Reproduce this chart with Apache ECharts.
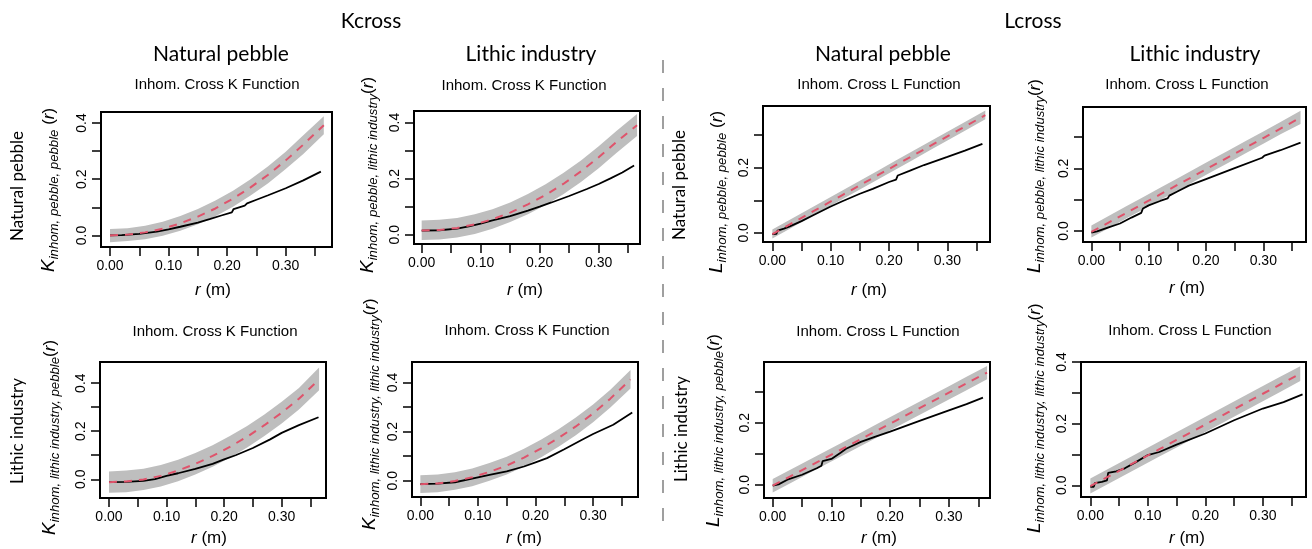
<!DOCTYPE html>
<html>
<head>
<meta charset="utf-8">
<script src="https://cdn.jsdelivr.net/npm/echarts@6/dist/echarts.min.js"></script>
<style>
  html, body { margin: 0; padding: 0; background: #fff; }
  #chart { width: 1312px; height: 549px; }
</style>
</head>
<body>
<div id="chart"></div>
<script>
// ---- distance grid (m) shared by the theoretical curves and envelopes ----
const rGrid = [0, 0.03, 0.06, 0.09, 0.12, 0.15, 0.18, 0.21, 0.24, 0.27, 0.30, 0.33, 0.365];

// ---- tick positions ----
const xTicks = [0, 0.05, 0.10, 0.15, 0.20, 0.25, 0.30, 0.35];
const xTickLabels = [0, 0.10, 0.20, 0.30];
const kTicks = [0, 0.1, 0.2, 0.3, 0.4];
const lTicks = [0, 0.1, 0.2, 0.3];
const lTicksTall = [0, 0.1, 0.2, 0.3, 0.4];
const yTickLabels = [0, 0.2, 0.4];

// ---- Kcross: natural pebble vs natural pebble ----
const kPebPebTheo = [0, 0.003, 0.011, 0.024, 0.043, 0.067, 0.096, 0.131, 0.171, 0.216, 0.267, 0.323, 0.392];
const kPebPebHi   = [0.023, 0.026, 0.035, 0.049, 0.069, 0.094, 0.124, 0.159, 0.200, 0.246, 0.298, 0.356, 0.424];
const kPebPebLo   = [-0.024, -0.020, -0.013, -0.001, 0.017, 0.040, 0.068, 0.102, 0.142, 0.186, 0.236, 0.290, 0.360];
const kPebPebObs  = [[0,0],[0.02,0.001],[0.05,0.006],[0.08,0.014],[0.10,0.022],[0.12,0.031],[0.15,0.046],[0.17,0.058],[0.19,0.071],[0.208,0.082],[0.211,0.094],[0.23,0.106],[0.234,0.114],[0.25,0.127],[0.27,0.143],[0.30,0.168],[0.33,0.196],[0.36,0.227]];

// ---- Kcross: natural pebble vs lithic industry ----
const kPebLitTheo = [0.015, 0.017, 0.024, 0.037, 0.055, 0.079, 0.108, 0.142, 0.181, 0.226, 0.276, 0.331, 0.390];
const kPebLitHi   = [0.051, 0.053, 0.060, 0.073, 0.091, 0.115, 0.145, 0.180, 0.220, 0.265, 0.315, 0.370, 0.430];
const kPebLitLo   = [-0.019, -0.017, -0.010, 0.003, 0.021, 0.045, 0.073, 0.106, 0.144, 0.188, 0.237, 0.291, 0.352];
const kPebLitObs  = [[0,0.015],[0.03,0.016],[0.06,0.022],[0.08,0.030],[0.10,0.040],[0.12,0.051],[0.15,0.066],[0.18,0.086],[0.20,0.100],[0.22,0.115],[0.25,0.138],[0.28,0.163],[0.30,0.181],[0.32,0.201],[0.34,0.222],[0.36,0.247]];

// ---- Kcross: lithic industry vs natural pebble ----
const kLitPebTheo = [-0.012, -0.009, -0.001, 0.014, 0.036, 0.064, 0.097, 0.135, 0.177, 0.225, 0.277, 0.335, 0.415];
const kLitPebHi   = [0.032, 0.036, 0.044, 0.059, 0.081, 0.109, 0.142, 0.180, 0.222, 0.270, 0.323, 0.380, 0.465];
const kLitPebLo   = [-0.056, -0.054, -0.045, -0.030, -0.008, 0.020, 0.052, 0.090, 0.132, 0.180, 0.232, 0.290, 0.370];
const kLitPebObs  = [[0,-0.012],[0.03,-0.011],[0.06,-0.007],[0.08,0.001],[0.10,0.014],[0.12,0.025],[0.15,0.043],[0.18,0.064],[0.20,0.083],[0.22,0.100],[0.25,0.130],[0.28,0.166],[0.30,0.193],[0.33,0.225],[0.364,0.258]];

// ---- Kcross: lithic industry vs lithic industry ----
const kLitLitTheo = [-0.014, -0.011, -0.001, 0.014, 0.036, 0.062, 0.094, 0.132, 0.174, 0.221, 0.274, 0.334, 0.412];
const kLitLitHi   = [0.022, 0.025, 0.035, 0.050, 0.072, 0.098, 0.130, 0.168, 0.210, 0.257, 0.310, 0.370, 0.450];
const kLitLitLo   = [-0.050, -0.047, -0.037, -0.022, 0, 0.026, 0.058, 0.096, 0.138, 0.185, 0.238, 0.298, 0.375];
const kLitLitObs  = [[0,-0.014],[0.03,-0.012],[0.06,-0.006],[0.10,0.014],[0.12,0.024],[0.15,0.038],[0.18,0.058],[0.20,0.075],[0.22,0.092],[0.25,0.128],[0.28,0.166],[0.30,0.190],[0.335,0.228],[0.368,0.278]];

// ---- Lcross: natural pebble vs natural pebble ----
const lPebPebTheo = [-0.004, 0.026, 0.056, 0.086, 0.116, 0.146, 0.176, 0.206, 0.236, 0.266, 0.296, 0.326, 0.361];
const lPebPebHi   = [0.010, 0.040, 0.070, 0.100, 0.130, 0.160, 0.190, 0.220, 0.250, 0.280, 0.310, 0.340, 0.375];
const lPebPebLo   = [-0.017, 0.013, 0.043, 0.073, 0.103, 0.133, 0.163, 0.193, 0.223, 0.253, 0.283, 0.313, 0.348];
const lPebPebObs  = [[0,-0.004],[0.007,-0.003],[0.009,0.007],[0.02,0.013],[0.03,0.020],[0.05,0.036],[0.07,0.054],[0.10,0.081],[0.12,0.097],[0.15,0.120],[0.172,0.135],[0.175,0.141],[0.20,0.156],[0.212,0.163],[0.215,0.176],[0.235,0.190],[0.238,0.196],[0.26,0.208],[0.30,0.233],[0.33,0.252],[0.36,0.273]];

// ---- Lcross: natural pebble vs lithic industry ----
const lPebLitTheo = [-0.003, 0.027, 0.057, 0.087, 0.117, 0.147, 0.177, 0.207, 0.237, 0.267, 0.297, 0.327, 0.362];
const lPebLitHi   = [0.018, 0.048, 0.078, 0.108, 0.138, 0.168, 0.198, 0.228, 0.258, 0.288, 0.318, 0.348, 0.384];
const lPebLitLo   = [-0.021, 0.009, 0.039, 0.069, 0.099, 0.129, 0.159, 0.189, 0.219, 0.249, 0.279, 0.309, 0.342];
const lPebLitObs  = [[0,-0.005],[0.01,-0.001],[0.03,0.012],[0.05,0.024],[0.07,0.043],[0.087,0.058],[0.09,0.072],[0.10,0.082],[0.12,0.096],[0.133,0.104],[0.136,0.113],[0.15,0.126],[0.17,0.145],[0.20,0.166],[0.25,0.201],[0.298,0.234],[0.302,0.241],[0.33,0.258],[0.365,0.282]];

// ---- Lcross: lithic industry vs natural pebble ----
const lLitPebTheo = [-0.003, 0.027, 0.057, 0.087, 0.117, 0.147, 0.177, 0.207, 0.237, 0.267, 0.297, 0.327, 0.362];
const lLitPebHi   = [0.018, 0.048, 0.078, 0.108, 0.138, 0.168, 0.198, 0.228, 0.258, 0.288, 0.318, 0.348, 0.383];
const lLitPebLo   = [-0.025, 0.005, 0.035, 0.065, 0.095, 0.125, 0.155, 0.185, 0.215, 0.245, 0.275, 0.305, 0.340];
const lLitPebObs  = [[0,-0.003],[0.01,0.001],[0.025,0.016],[0.05,0.032],[0.075,0.053],[0.083,0.061],[0.085,0.076],[0.10,0.083],[0.115,0.102],[0.125,0.116],[0.15,0.138],[0.175,0.155],[0.20,0.171],[0.25,0.206],[0.30,0.240],[0.33,0.260],[0.358,0.281]];

// ---- Lcross: lithic industry vs lithic industry ----
const lLitLitTheo = [-0.003, 0.027, 0.057, 0.087, 0.117, 0.147, 0.177, 0.207, 0.237, 0.267, 0.297, 0.327, 0.362];
const lLitLitHi   = [0.022, 0.052, 0.082, 0.112, 0.142, 0.172, 0.202, 0.232, 0.262, 0.292, 0.322, 0.352, 0.386];
const lLitLitLo   = [-0.027, 0.003, 0.033, 0.063, 0.093, 0.123, 0.153, 0.183, 0.213, 0.243, 0.273, 0.303, 0.338];
const lLitLitObs  = [[0,-0.005],[0.006,-0.005],[0.008,0.007],[0.02,0.011],[0.029,0.016],[0.031,0.040],[0.045,0.045],[0.06,0.055],[0.08,0.076],[0.10,0.098],[0.12,0.108],[0.15,0.132],[0.20,0.168],[0.25,0.211],[0.30,0.249],[0.336,0.270],[0.369,0.295]];

// ---- panel layout: plot box, axis ranges and label anchors ----
const panels = [
  { box:[101,112,231,135], x:[-0.0154,0.379], y:[-0.041,0.439], yt:kTicks, fn:'K', sub:'inhom, pebble, pebble', gap:' ', title:'Inhom. Cross K Function',
    theo:kPebPebTheo, hi:kPebPebHi, lo:kPebPebLo, obs:kPebPebObs, tPos:[217,85], xtPos:[213,290], ytPos:[49,272] },
  { box:[414,111,226,133], x:[-0.013,0.370], y:[-0.033,0.441], yt:kTicks, fn:'K', sub:'inhom, pebble, lithic industry', gap:'', title:'Inhom. Cross K Function',
    theo:kPebLitTheo, hi:kPebLitHi, lo:kPebLitLo, obs:kPebLitObs, tPos:[524,86], xtPos:[525,290], ytPos:[368,273] },
  { box:[763,106,227,136], x:[-0.016,0.373], y:[-0.028,0.389], yt:lTicks, fn:'L', sub:'inhom, pebble, pebble', gap:' ', title:'Inhom. Cross L Function',
    theo:lPebPebTheo, hi:lPebPebHi, lo:lPebPebLo, obs:lPebPebObs, tPos:[879,85], xtPos:[869,290], ytPos:[717,273] },
  { box:[1083,107,223,135], x:[-0.0146,0.3745], y:[-0.035,0.396], yt:lTicks, fn:'L', sub:'inhom, pebble, lithic industry', gap:'', title:'Inhom. Cross L Function',
    theo:lPebLitTheo, hi:lPebLitHi, lo:lPebLitLo, obs:lPebLitObs, tPos:[1187,85], xtPos:[1187,288], ytPos:[1035,273] },
  { box:[100,362,226,136], x:[-0.0156,0.377], y:[-0.078,0.488], yt:kTicks, fn:'K', sub:'inhom, lithic industry, pebble', gap:'', title:'Inhom. Cross K Function',
    theo:kLitPebTheo, hi:kLitPebHi, lo:kLitPebLo, obs:kLitPebObs, tPos:[215,332], xtPos:[209,538], ytPos:[50,535] },
  { box:[412,362,226,135], x:[-0.0145,0.378], y:[-0.066,0.483], yt:kTicks, fn:'K', sub:'inhom, lithic industry, lithic industry', gap:'', title:'Inhom. Cross K Function',
    theo:kLitLitTheo, hi:kLitLitHi, lo:kLitLitLo, obs:kLitLitObs, tPos:[527,331], xtPos:[524,538], ytPos:[370,530] },
  { box:[764,362,226,136], x:[-0.0148,0.370], y:[-0.043,0.396], yt:lTicks, fn:'L', sub:'inhom, lithic industry, pebble', gap:'', title:'Inhom. Cross L Function',
    theo:lLitPebTheo, hi:lLitPebHi, lo:lLitPebLo, obs:lLitPebObs, tPos:[878,332], xtPos:[879,538], ytPos:[714,527] },
  { box:[1081,362,225,135], x:[-0.0162,0.375], y:[-0.038,0.400], yt:lTicksTall, fn:'L', sub:'inhom, lithic industry, lithic industry', gap:'', title:'Inhom. Cross L Function',
    theo:lLitLitTheo, hi:lLitLitHi, lo:lLitLitLo, obs:lLitLitObs, tPos:[1190,331], xtPos:[1187,538], ytPos:[1035,533] }
];

const SANS = 'Liberation Sans';
const HEAD = 'Lato';

const grid = [], xAxis = [], yAxis = [], series = [], graphic = [];

function pairs(xs, ys) { return xs.map((x, i) => [x, ys[i]]); }

function text(x, y, str, font, extra) {
  return Object.assign({
    type: 'text', x, y, silent: true,
    style: { text: str, font, fill: '#000', textAlign: 'center', textVerticalAlign: 'middle', align: 'center', verticalAlign: 'middle' }
  }, extra || {});
}

// envelope polygon: upper bound left to right, then lower bound back
function envelopeRenderer(p) {
  return function (params, api) {
    if (params.dataIndex !== 0) return null;
    const pts = [];
    for (let j = 0; j < rGrid.length; j++) pts.push(api.coord([rGrid[j], p.hi[j]]));
    for (let j = rGrid.length - 1; j >= 0; j--) pts.push(api.coord([rGrid[j], p.lo[j]]));
    return { type: 'polygon', shape: { points: pts }, style: { fill: '#BEBEBE', stroke: null } };
  };
}

panels.forEach((p, i) => {
  const [l, t, w, h] = p.box;
  grid.push({ left: l, top: t, width: w, height: h, show: true, borderColor: '#000', borderWidth: 2, backgroundColor: 'transparent' });

  xAxis.push({
    type: 'value', gridIndex: i, min: p.x[0], max: p.x[1], position: 'bottom',
    axisLine: { show: false, onZero: false }, splitLine: { show: false },
    axisTick: { show: true, length: 9, lineStyle: { color: '#000', width: 1.5 }, customValues: xTicks },
    axisLabel: { customValues: xTickLabels, formatter: v => v.toFixed(2), fontFamily: SANS, fontSize: 14, color: '#000', margin: 12 }
  });
  yAxis.push({
    type: 'value', gridIndex: i, min: p.y[0], max: p.y[1], position: 'left',
    axisLine: { show: false, onZero: false }, splitLine: { show: false },
    axisTick: { show: true, length: 9, lineStyle: { color: '#000', width: 1.5 }, customValues: p.yt },
    axisLabel: { customValues: yTickLabels.filter(v => v <= p.y[1] + 1e-9), formatter: v => v.toFixed(1), rotate: 90, fontFamily: SANS, fontSize: 14, color: '#000', margin: 12 }
  });

  series.push({
    type: 'custom', xAxisIndex: i, yAxisIndex: i, silent: true, clip: true,
    data: pairs(rGrid, p.hi), renderItem: envelopeRenderer(p)
  });
  series.push({
    type: 'line', xAxisIndex: i, yAxisIndex: i, data: p.obs, symbol: 'none', silent: true,
    lineStyle: { color: '#000', width: 1.8 }
  });
  series.push({
    type: 'line', xAxisIndex: i, yAxisIndex: i, data: pairs(rGrid, p.theo), symbol: 'none', silent: true,
    lineStyle: { color: '#DF536B', width: 2, type: [8, 7] }
  });

  // panel title
  graphic.push(text(p.tPos[0], p.tPos[1], p.title, '15px ' + SANS));
  // x axis title: r (m)
  graphic.push({
    type: 'text', x: p.xtPos[0], y: p.xtPos[1], silent: true,
    style: {
      text: '{i|r}{n| (m)}', fill: '#000', textAlign: 'center', textVerticalAlign: 'middle', align: 'center', verticalAlign: 'middle',
      rich: {
        i: { fontFamily: SANS, fontStyle: 'italic', fontSize: 17, fill: '#000' },
        n: { fontFamily: SANS, fontSize: 17, fill: '#000' }
      }
    }
  });
  // y axis title with subscript, rotated to read upward
  graphic.push({
    type: 'text', x: p.ytPos[0], y: p.ytPos[1], rotation: Math.PI / 2, silent: true,
    style: {
      text: '{f|' + p.fn + '}{s|' + p.sub + '}{p|' + p.gap + '(}{r|r}{p|)}',
      fill: '#000', textAlign: 'left', textVerticalAlign: 'middle', align: 'left', verticalAlign: 'middle',
      rich: {
        f: { fontFamily: SANS, fontStyle: 'italic', fontSize: 19, lineHeight: 24, verticalAlign: 'middle', fill: '#000' },
        s: { fontFamily: SANS, fontStyle: 'italic', fontSize: 13.2, lineHeight: 13, verticalAlign: 'bottom', fill: '#000' },
        p: { fontFamily: SANS, fontSize: 17, lineHeight: 24, verticalAlign: 'middle', fill: '#000' },
        r: { fontFamily: SANS, fontStyle: 'italic', fontSize: 17, lineHeight: 24, verticalAlign: 'middle', fill: '#000' }
      }
    }
  });
});

// group headings
graphic.push(text(371, 21, 'Kcross', '21px ' + HEAD));
graphic.push(text(1033, 21, 'Lcross', '21px ' + HEAD));
graphic.push(text(221, 54, 'Natural pebble', '21px ' + HEAD));
graphic.push(text(531, 54, 'Lithic industry', '21px ' + HEAD));
graphic.push(text(883, 54, 'Natural pebble', '21px ' + HEAD));
graphic.push(text(1195, 54, 'Lithic industry', '21px ' + HEAD));
// row headings
graphic.push(text(18, 186, 'Natural pebble', '17px ' + HEAD, { rotation: Math.PI / 2 }));
graphic.push(text(18, 431, 'Lithic industry', '17px ' + HEAD, { rotation: Math.PI / 2 }));
graphic.push(text(680, 185, 'Natural pebble', '17px ' + HEAD, { rotation: Math.PI / 2 }));
graphic.push(text(682, 429, 'Lithic industry', '17px ' + HEAD, { rotation: Math.PI / 2 }));
// dashed separator between the K and L halves
graphic.push({
  type: 'line', silent: true,
  shape: { x1: 663, y1: 60, x2: 663, y2: 528 },
  style: { stroke: '#808080', lineWidth: 1.5, lineDash: [13, 15] }
});

const chart = echarts.init(document.getElementById('chart'), null, { renderer: 'canvas' });
chart.setOption({
  animation: false,
  backgroundColor: '#fff',
  grid, xAxis, yAxis, series, graphic
});
</script>
</body>
</html>
